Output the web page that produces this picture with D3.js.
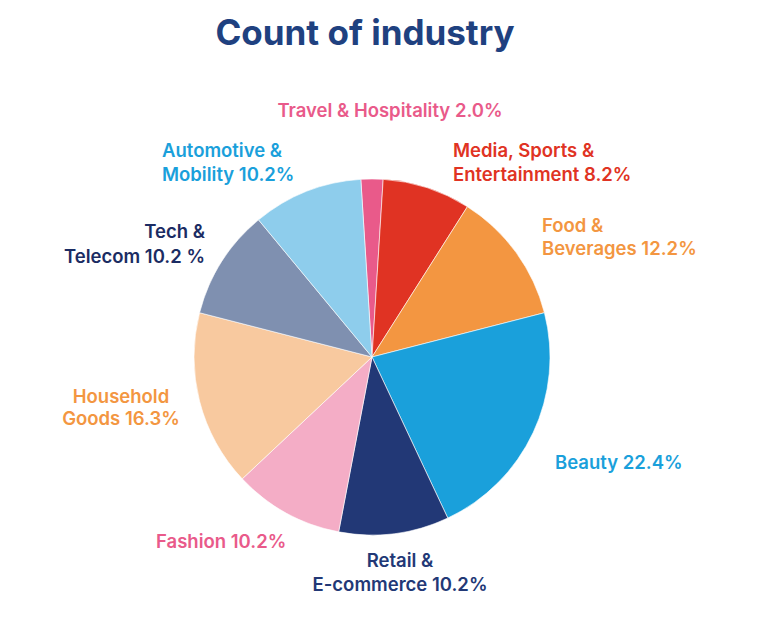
<!DOCTYPE html>
<html>
<head>
<meta charset="utf-8">
<script src="https://cdn.jsdelivr.net/npm/d3@7"></script>
<style>
  html, body { margin: 0; padding: 0; background: #ffffff; }
  svg { display: block; }
  text { font-family: "Inter", "Lato", sans-serif; }
</style>
</head>
<body>
<svg id="chart" width="784" height="626"></svg>
<script>
// ---- data ----
const categories = ["Travel & Hospitality", "Media, Sports & Entertainment", "Food & Beverages", "Beauty",
  "Retail & E-commerce", "Fashion", "Household Goods", "Tech & Telecom", "Automotive & Mobility"];
const counts = [1, 4, 6, 11, 5, 5, 8, 5, 5];
const percentLabels = ["2.0%", "8.2%", "12.2%", "22.4%", "10.2%", "10.2%", "16.3%", "10.2 %", "10.2%"];
const labelLines = [
  ["Travel & Hospitality 2.0%"],
  ["Media, Sports &", "Entertainment 8.2%"],
  ["Food &", "Beverages 12.2%"],
  ["Beauty 22.4%"],
  ["Retail &", "E-commerce 10.2%"],
  ["Fashion 10.2%"],
  ["Household", "Goods 16.3%"],
  ["Tech &", "Telecom 10.2 %"],
  ["Automotive &", "Mobility 10.2%"]
];

// ---- styles / layout ----
const sliceColors = ["#E95A8A", "#E03323", "#F39641", "#1AA0DB", "#223876", "#F4ADC6", "#F8C99F", "#7F90B0", "#8ECDEC"];
const labelColors = ["#E95A8A", "#E03323", "#F39641", "#1AA0DB", "#223876", "#E95A8A", "#F39641", "#1B2C63", "#1AA0DB"];
const labelLayout = [
  { x: 390, y: 117, anchor: "middle", lh: 24 },
  { x: 453, y: 157, anchor: "start", lh: 24 },
  { x: 542, y: 232, anchor: "start", lh: 23 },
  { x: 555, y: 469, anchor: "start", lh: 24 },
  { x: 400, y: 567, anchor: "middle", lh: 24 },
  { x: 156, y: 548, anchor: "start", lh: 24 },
  { x: 121, y: 403, anchor: "middle", lh: 22 },
  { x: 205, y: 238, anchor: "end", lh: 25 },
  { x: 162, y: 157, anchor: "start", lh: 24 }
];

const cx = 372, cy = 357, R = 178;
const svg = d3.select("#chart");

svg.append("text")
  .attr("x", 365).attr("y", 45)
  .attr("text-anchor", "middle")
  .attr("font-size", 35).attr("font-weight", 700)
  .attr("fill", "#1F4180")
  .text("Count of industry");

const data = categories.map((c, i) => ({ name: c, value: counts[i], i }));
const startOffset = -Math.PI * (counts[0] / d3.sum(counts));
const pie = d3.pie().value(d => d.value).sort(null)
  .startAngle(startOffset).endAngle(startOffset + 2 * Math.PI);
const arc = d3.arc().innerRadius(0).outerRadius(R);

const g = svg.append("g").attr("transform", `translate(${cx},${cy})`);
g.selectAll("path").data(pie(data)).join("path")
  .attr("d", arc)
  .attr("fill", d => sliceColors[d.data.i])
  .attr("stroke", "#ffffff").attr("stroke-width", 0.6);

const lg = svg.append("g");
labelLines.forEach((lines, i) => {
  const L = labelLayout[i];
  const t = lg.append("text")
    .attr("text-anchor", L.anchor)
    .attr("font-size", 18.5).attr("font-weight", 600)
    .attr("fill", labelColors[i]);
  lines.forEach((ln, k) => {
    t.append("tspan").attr("x", L.x).attr("y", L.y + k * L.lh).text(ln);
  });
});
</script>
</body>
</html>
